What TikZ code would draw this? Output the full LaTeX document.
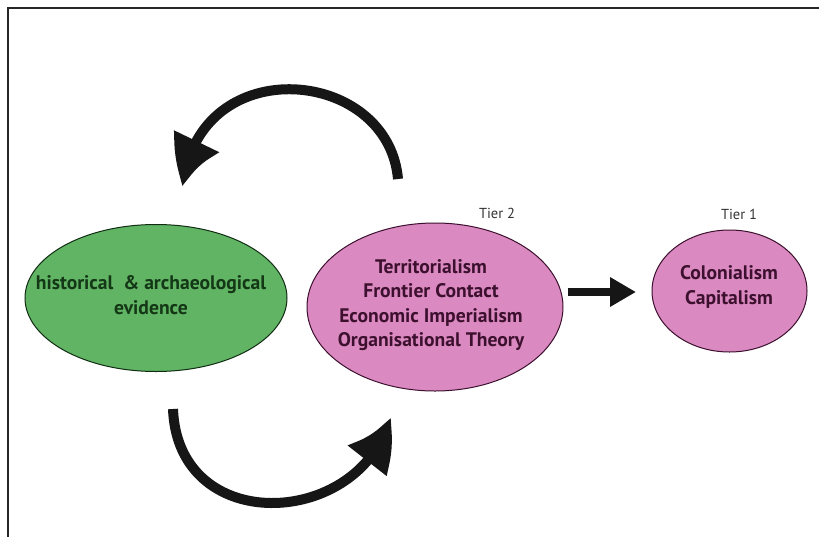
\documentclass[tikz,border=0pt]{standalone}
\usepackage{fontspec}
\setmainfont{PT Sans}
\usetikzlibrary{arrows.meta,bending,shapes.geometric}
\definecolor{evgreen}{RGB}{96,180,100}
\definecolor{evgreendark}{RGB}{20,55,22}
\definecolor{tierpink}{RGB}{218,138,192}
\definecolor{tierpinkdark}{RGB}{60,16,46}
\definecolor{inkblack}{RGB}{22,22,22}
\tikzset{
  blob/.style={ellipse, draw, line width=1pt, inner sep=0pt},
  greenblob/.style={blob, fill=evgreen, draw=evgreendark!80!black},
  pinkblob/.style={blob, fill=tierpink, draw=tierpinkdark},
  bodytext/.style={font=\bfseries\fontsize{19.6}{24.5}\selectfont, align=center, inner sep=0pt},
  tierlabel/.style={font=\fontsize{14.5}{16}\selectfont, text=black!80, inner sep=0pt},
  cyclearrow/.style={draw=inkblack, line width=10pt,
    -{Triangle[length=52pt,width=46pt,bend]}},
  flowarrow/.style={draw=inkblack, line width=8pt,
    -{Triangle[length=26pt,width=28pt]}},
}
\begin{document}
\begin{tikzpicture}[x=1pt,y=-1pt]
  \useasboundingbox (0,0) rectangle (819,536);
  \fill[white] (0,0) rectangle (819,536);
  % frame (top and left edges)
  \draw[line width=2pt, black!85] (8,540) -- (8,7.5) -- (825,7.5);

  % ellipses
  \node[greenblob, minimum width=262pt, minimum height=147pt] (ev) at (156,298) {};
  \node[bodytext, text=evgreendark] (evt) at (151,295) {historical\ \ \& archaeological\\evidence};

  \node[pinkblob, minimum width=256pt, minimum height=168pt] (t2) at (435,307) {};
  \node[bodytext, text=tierpinkdark] (t2t) at (431,305)
    {Territorialism\\Frontier Contact\\Economic Imperialism\\Organisational Theory};
  \node[tierlabel] (t2l) at (497,213) {Tier 2};

  \node[pinkblob, minimum width=155pt, minimum height=122pt] (t1) at (729.5,291) {};
  \node[bodytext, text=tierpinkdark] (t1t) at (729,287) {Colonialism\\Capitalism};
  \node[tierlabel] (t1l) at (739,214) {Tier 1};

  % arrow anchors
  \coordinate (topstart) at (398,179);
  \coordinate (toptip) at (183,187);
  \coordinate (botstart) at (173,409);
  \coordinate (bottip) at (390,417);
  \coordinate (flowstart) at (568,292);
  \coordinate (flowtip) at (636,292);

  % feedback loop arrows
  \draw[cyclearrow] (topstart) .. controls (388,66) and (196,50) .. (toptip);
  \draw[cyclearrow] (botstart) .. controls (178,538) and (362,528) .. (bottip);

  % tier 2 to tier 1
  \draw[flowarrow] (flowstart) -- (flowtip);
\end{tikzpicture}
\end{document}
